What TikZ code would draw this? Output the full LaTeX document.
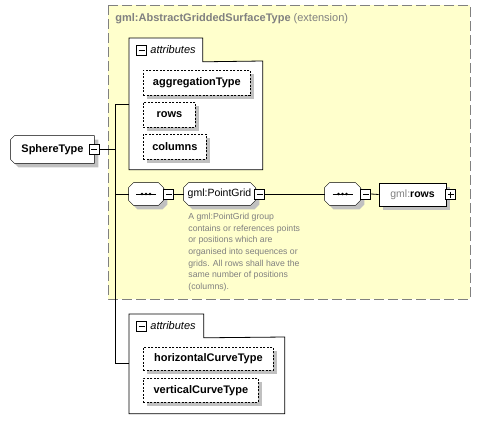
\documentclass[tikz,border=0pt]{standalone}
\usepackage{fontspec}
\setmainfont{Liberation Sans}
\usetikzlibrary{shadows,positioning,calc,backgrounds}

\definecolor{extfill}{RGB}{255,255,204}
\definecolor{extline}{RGB}{128,128,128}
\definecolor{docgray}{RGB}{128,128,128}
\definecolor{shadowgray}{RGB}{192,192,192}

\tikzset{
  shade4/.style={drop shadow={shadow xshift=4pt,shadow yshift=-4pt,fill=shadowgray,opacity=1}},
  attr/.style={draw,dash pattern=on 2pt off 1.5pt,fill=white,shade4,anchor=north west,
    inner sep=0pt,minimum height=25pt,font=\fontsize{11}{13}\selectfont\bfseries},
  elem/.style={inner sep=0pt,minimum height=22pt},
  minusbox/.style={draw,fill=white,minimum size=10pt,inner sep=0pt,
    path picture={\draw ([xshift=2pt]path picture bounding box.west) -- ([xshift=-2pt]path picture bounding box.east);}},
  plusbox/.style={draw,fill=white,minimum size=10pt,inner sep=0pt,
    path picture={\draw ([xshift=2pt]path picture bounding box.west) -- ([xshift=-2pt]path picture bounding box.east);
      \draw ([yshift=-2pt]path picture bounding box.north) -- ([yshift=2pt]path picture bounding box.south);}},
  panel/.style={inner sep=0pt,anchor=north west},
  tablbl/.style={anchor=west,inner sep=0pt,font=\fontsize{11}{13}\selectfont\itshape},
  doc/.style={anchor=north west,inner sep=0pt,align=left,text=docgray,font=\fontsize{8.7}{11.6}\selectfont}
}

\begin{document}
\begin{tikzpicture}[x=1pt,y=-1pt,line width=0.8pt]
        \useasboundingbox (0,0) rectangle (481,431);

        % Extension frame
        \begin{scope}[on background layer]
            \draw[extline,fill=extfill,dash pattern=on 10pt off 4pt] (108,5) rectangle (470,299);
        \end{scope}
        \node[anchor=west,inner sep=0pt,text=docgray,font=\fontsize{11}{13}\selectfont] (exttitle) at (115,19)
            {\textbf{gml:AbstractGriddedSurfaceType} (extension)};

        % First attributes panel
        \node[panel,minimum width=73pt,minimum height=23pt] (tabA) at (129,38) {};
        \node[panel,minimum width=133pt,minimum height=108pt] (panelA) at (129,61) {};
        \draw[fill=white] (tabA.north west) -- (tabA.north east) -- (tabA.south east) -- (panelA.north east)
            -- (panelA.south east) -- (panelA.south west) -- cycle;
        \node[minusbox] (tabAminus) at (141.5,50) {};
        \node[tablbl] (tabAlabel) at (150,50) {attributes};
        \node[attr,minimum width=107pt] (aggtype) at (143,70) {aggregationType};
        \node[attr,minimum width=52pt] (rowsattr) at (143,102) {rows};
        \node[attr,minimum width=63pt] (colsattr) at (143,134) {columns};

        % Root element
        \node[elem,minimum width=83pt,minimum height=27pt,font=\fontsize{11}{13}\selectfont\bfseries]
            (sphere) at (52.5,149.5) {SphereType\hspace{8pt}};
        \node[minusbox] (sphereminus) at (sphere.east) {};

        % Sequence row
        \node[elem,minimum width=34pt] (seq1) at (146,194) {};
        \node[minusbox,anchor=west] (seq1minus) at (seq1.east) {};
        \node[elem,minimum width=71pt,font=\fontsize{10.5}{12}\selectfont] (pgrid) at (219.5,194) {gml:PointGrid\hspace{6pt}};
        \node[minusbox,anchor=west] (pgminus) at ([xshift=-1pt]pgrid.east) {};
        \node[elem,minimum width=35pt] (seq2) at (342.5,194) {};
        \node[minusbox,anchor=west] (seq2minus) at (seq2.east) {};
        \node[elem,draw,fill=white,shade4,minimum width=67pt,minimum height=23pt,font=\fontsize{10.5}{12}\selectfont]
            (rows) at (412.5,194.5) {{\color{docgray}gml:}\textbf{rows}};
        \node[plusbox,anchor=west] (rowsplus) at ([xshift=-1pt]rows.east) {};
        \foreach \s in {seq1,seq2} {
            \draw ([xshift=-10pt]\s.center) -- ([xshift=10pt]\s.center);
            \foreach \d in {-4,0,4}
                \fill ([xshift=\d pt]\s.center) circle (1.4pt);
        }
        \node[doc] (pgdoc) at (188,213) {A gml:PointGrid group\\contains or references points\\or positions which are\\
            organised into sequences or\\grids. All rows shall have the\\same number of positions\\(columns).};

        % Chamfered outlines behind the nodes
        \begin{scope}[on background layer]
            \draw[fill=white,shade4] ([xshift=4pt]sphere.north west) -- (sphere.north east) -- (sphere.south east)
                -- ([xshift=4pt]sphere.south west) -- ([yshift=4pt]sphere.south west) -- ([yshift=-4pt]sphere.north west) -- cycle;
            \foreach \n in {seq1,pgrid,seq2}
                \draw[fill=white,shade4] ([xshift=5pt]\n.north west) -- ([xshift=-5pt]\n.north east) -- ([yshift=-5pt]\n.north east)
                    -- ([yshift=5pt]\n.south east) -- ([xshift=-5pt]\n.south east) -- ([xshift=5pt]\n.south west)
                    -- ([yshift=5pt]\n.south west) -- ([yshift=-5pt]\n.north west) -- cycle;
        \end{scope}

        % Second attributes panel
        \node[panel,minimum width=74pt,minimum height=23pt] (tabB) at (129,314) {};
        \node[panel,minimum width=155pt,minimum height=76pt] (panelB) at (129,337) {};
        \draw[fill=white] (tabB.north west) -- (tabB.north east) -- (tabB.south east) -- (panelB.north east)
            -- (panelB.south east) -- (panelB.south west) -- cycle;
        \node[minusbox] (tabBminus) at (141.5,326) {};
        \node[tablbl] (tabBlabel) at (150,326) {attributes};
        \node[attr,minimum width=130pt,minimum height=23pt] (hcurve) at (143,347) {horizontalCurveType};
        \node[attr,minimum width=115pt,minimum height=24pt] (vcurve) at (143,378) {verticalCurveType};

        % Connectors
        \coordinate (jA) at (115,104);
        \coordinate (jB) at (115,194);
        \coordinate (jC) at (115,363);
        \draw (sphereminus.east) -- (sphereminus.east -| jA);
        \draw (jA) -- (jC);
        \draw (jA) -- (jA -| panelA.west);
        \draw (jB) -- (seq1.west);
        \draw (jC) -- (jC -| panelB.west);
        \draw (seq1minus.east) -- (pgrid.west);
        \draw (pgminus.east) -- (seq2.west);
        \draw (seq2minus.east) -- (rows.west);

    \end{tikzpicture}
\end{document}
